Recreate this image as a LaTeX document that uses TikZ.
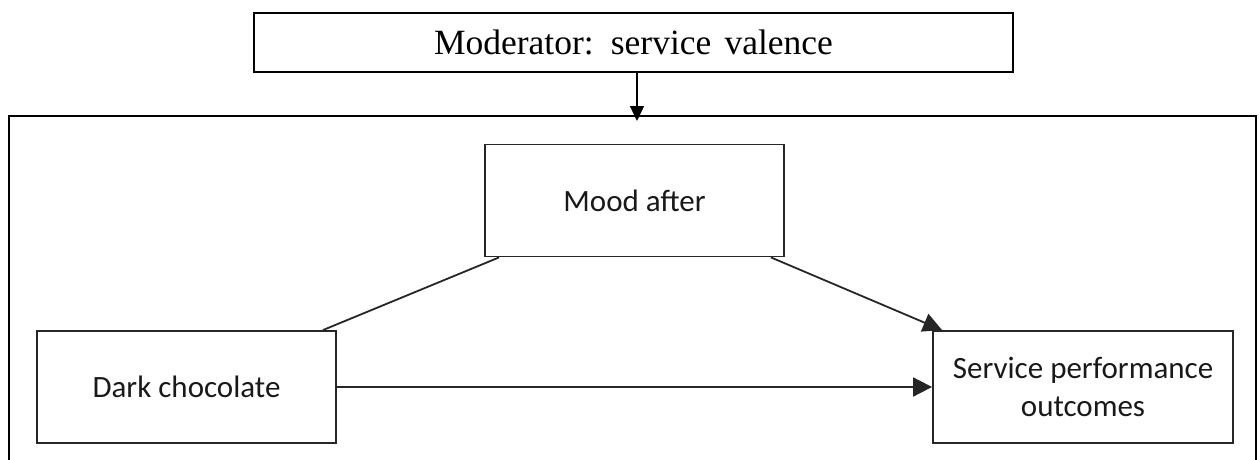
\documentclass[tikz,border=0pt]{standalone}
\usepackage{fontspec}
\setmainfont{Liberation Serif}
\newfontfamily\calibri{Carlito}
\usetikzlibrary{arrows.meta,calc}

\tikzset{
  varbox/.style={draw=black!85, line width=1.8pt, inner sep=0pt, align=center,
    minimum width=299pt, minimum height=112pt, text=black!90,
    font=\calibri\fontsize{31}{38}\selectfont},
  modbox/.style={draw=black, line width=2pt, inner sep=0pt,
    minimum width=759pt, minimum height=59pt,
    font=\fontsize{35.5}{40}\selectfont},
  link/.style={draw=black!85, line width=1.8pt},
  arrowlink/.style={link, -{Triangle[length=19pt,width=19pt]}},
  modarrow/.style={draw=black, line width=1.4pt, -{Triangle[length=15pt,width=14pt]}},
  frameline/.style={draw=black, line width=2.2pt}
}

\begin{document}
\begin{tikzpicture}[x=1pt,y=-1pt]
\useasboundingbox (0,0) rectangle (1259,460);

% open frame around the mediation model
\coordinate (fbl) at (9,470);
\coordinate (ftl) at (9,116);
\coordinate (ftr) at (1256,116);
\coordinate (fbr) at (1256,470);
\draw[frameline] (fbl) -- (ftl) -- (ftr) -- (fbr);

% moderator
\node[modbox] (mod) at (633.5,42.5) {Moderator:\hspace{0.15em} service\hspace{0.12em} valence};
\coordinate (modin) at (637,121);
\draw[modarrow] (mod.south -| modin) -- (modin);

% variables
\node[varbox] (mood) at (634.5,200.5) {Mood after};
\node[varbox] (dark) at (186.5,387) {Dark chocolate};
\node[varbox, minimum width=300pt] (serv) at (1083,387) {Service performance\\outcomes};

% paths
\draw[link] ($(mood.south west)+(15,0)$) -- ($(dark.north east)+(-14,0)$);
\draw[arrowlink] ($(mood.south east)+(-14,0)$) -- ($(serv.north west)+(10,0)$);
\draw[arrowlink] (dark.east) -- (serv.west);
\end{tikzpicture}
\end{document}
